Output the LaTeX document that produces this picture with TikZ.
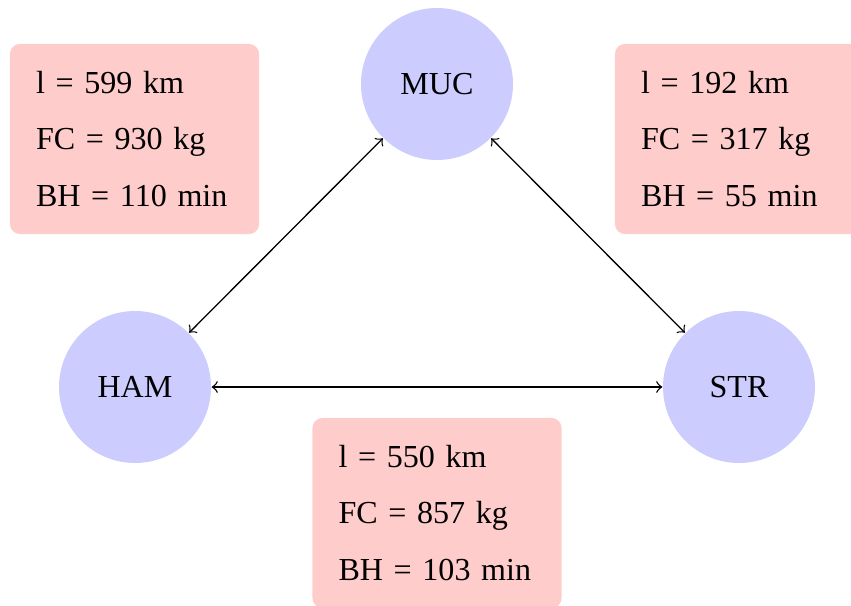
\documentclass[tikz,border=0pt]{standalone}
\usepackage{fontspec}
\setmainfont{Liberation Serif}
\begin{document}
\begin{tikzpicture}[x=0.2995pt,y=-0.2995pt,
  city/.style={circle,fill=blue!20,minimum size=1.6cm,inner sep=0pt,font=\fontsize{9.6}{12}\selectfont},
  info/.style={fill=red!20,rounded corners=3pt,align=left,text width=59pt,inner xsep=7.8pt,inner ysep=8.1pt,font=\fontsize{9.6}{17}\selectfont},
  link/.style={<->,line width=0.4pt}]
\useasboundingbox (0,0) rectangle (851,605);
\node[city] (MUC) at (437,84) {MUC};
\node[city] (HAM) at (135,387) {HAM};
\node[city] (STR) at (739,387) {STR};
\node[info] (bl) at (134.5,139) {l = 599 km\\FC = 930 kg\\BH = 110 min};
\node[info] (br) at (739.5,139) {l = 192 km\\FC = 317 kg\\BH = 55 min};
\node[info] (bb) at (437,513) {l = 550 km\\FC = 857 kg\\BH = 103 min};
\draw[link] (MUC) -- (HAM);
\draw[link] (MUC) -- (STR);
\draw[link] (HAM) -- (STR);
\end{tikzpicture}
\end{document}
